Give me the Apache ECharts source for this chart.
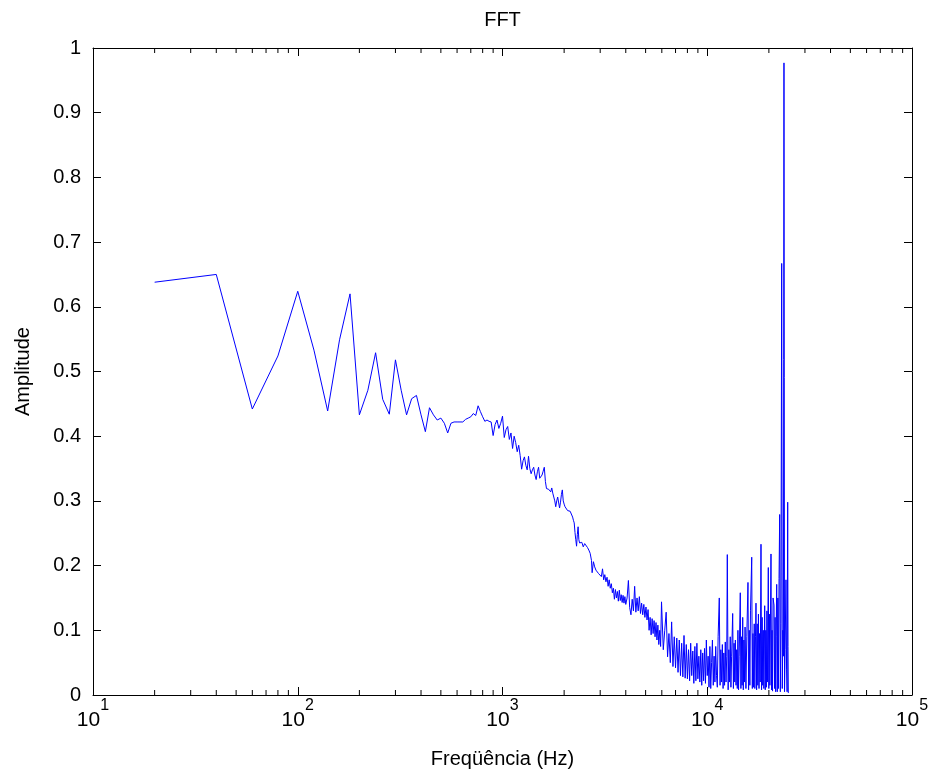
<!DOCTYPE html>
<html>
<head>
<meta charset="utf-8">
<script src="https://cdn.jsdelivr.net/npm/echarts@6/dist/echarts.min.js"></script>
<style>html,body{margin:0;padding:0;background:#fff}#c{width:936px;height:778px}</style>
</head>
<body>
<div id="c"></div>
<script>
// ---- data ----
const titleText = 'FFT';
const xTitle = 'Freqüência (Hz)';
const yTitle = 'Amplitude';

const freqLow = [20,40,60,80,100,120,140,160,180,200,220,240,260,280,300,320,340,360,380,400,
  420,440,460,480,500,520,540,560,580,600,620,640,660,680,700,720,740,760,780,800,
  820,840,860,880,900,920,940,960,980,1000,1020];
const ampLow = [0.638,0.650,0.442,0.524,0.624,0.533,0.439,0.549,0.620,0.433,0.471,0.529,0.457,0.434,0.518,0.471,0.433,0.458,0.463,0.433,
  0.407,0.444,0.433,0.425,0.428,0.420,0.405,0.420,0.422,0.422,0.422,0.422,0.426,0.428,0.430,0.435,0.432,0.447,0.438,0.430,
  0.423,0.425,0.423,0.422,0.401,0.418,0.425,0.412,0.420,0.431,0.398];

const freqMid = [1040,1060,1080,1100,1120,1140,1160,1180,1200,1220,1240,1260,1280,1300,1320,1340,1360,1380,1400,1420,
  1440,1460,1480,1500,1520,1540,1560,1580,1600,1620,1640,1660,1680,1700,1720,1740,1760,1780,1800,1820,
  1840,1860,1880,1900,1920,1940,1960,1980,2000,2020,2040,2060,2080,2100,2120,2140,2160,2180,2200,2220,
  2240,2260,2280,2300,2320,2340,2360,2380,2400,2440,2480,2520,2560,2600,2640,2680,2720,2740,2780,2820,
  2860,2900,2940,3000];
const ampMid = [0.410,0.415,0.395,0.405,0.381,0.400,0.390,0.376,0.386,0.370,0.349,0.362,0.368,0.355,0.348,0.369,0.350,0.342,0.348,0.352,
  0.340,0.333,0.345,0.352,0.335,0.338,0.340,0.346,0.352,0.330,0.319,0.322,0.318,0.316,0.314,0.320,0.312,0.312,0.300,0.291,
  0.300,0.306,0.306,0.289,0.298,0.310,0.317,0.300,0.295,0.291,0.294,0.288,0.285,0.287,0.287,0.284,0.282,0.281,0.275,0.270,
  0.266,0.251,0.240,0.230,0.248,0.260,0.240,0.235,0.232,0.236,0.229,0.234,0.232,0.228,0.224,0.219,0.208,0.189,0.206,0.198,
  0.193,0.196,0.188,0.191];

const freqHigh = [3040,3080,3120,3160,3200,3240,3280,3320,3360,3400,3440,3480,3520,3560,3600,3640,3680,3720,3760,3800,
  3840,3880,3920,3960,4000,4060,4120,4180,4240,4300,4360,4420,4480,4540,4600,4660,4720,4780,4840,4900,
  4960,5020,5080,5140,5200,5260,5320,5380,5440,5500,5560,5620,5680,5740,5800,5860,5920,5980,6100,6200,
  6300,6400,6500,6600,6700,6800,6900,7000,7100,7200,7300,7400,7500,7600,7700,7800,7900,8000,8100,8200,
  8300,8400,8500,8600,8700,8800,8900,9000,9100,9200,9300,9400,9500,9600,9700,9800,9900,10000];
const ampHigh = [0.183,0.195,0.178,0.186,0.175,0.182,0.168,0.178,0.165,0.172,0.158,0.165,0.148,0.163,0.150,0.160,0.145,0.162,0.146,0.155,
  0.143,0.154,0.142,0.152,0.140,0.150,0.177,0.135,0.124,0.148,0.130,0.168,0.128,0.150,0.130,0.152,0.126,0.142,0.124,0.140,
  0.120,0.136,0.116,0.132,0.100,0.120,0.093,0.118,0.095,0.115,0.090,0.112,0.085,0.108,0.078,0.100,0.075,0.144,0.070,0.100,
  0.128,0.059,0.095,0.050,0.113,0.044,0.090,0.042,0.088,0.035,0.085,0.030,0.080,0.028,0.092,0.026,0.078,0.025,0.070,0.022,
  0.080,0.030,0.068,0.018,0.075,0.022,0.080,0.025,0.060,0.020,0.070,0.015,0.065,0.022,0.072,0.018,0.085,0.030];

const freqTop = [10100,10200,10300,10400,10500,10600,10700,10800,10900,11000,11100,11200,11300,11450,11550,11650,11750,11850,11950,12050,
  12150,12250,12350,12450,12530,12650,12750,12850,12950,13050,13150,13310,13420,13520,13620,13720,13820,13920,14020,14120,
  14220,14320,14500,14600,14700,14800,14900,15000,15100,15200,15300,15450,15600,15810,15920,16040,16150,16260,16490,16600,
  16720,16840,16960,17080,17200,17300,17420,17540,17660,17780,17900,18020,18140,18300,18420,18540,18660,18780,18900,19080,
  19200,19320,19440,19560,19680,19870,19990,20110,20230,20480,20600,20720,20840,20960,21190,21320,21450,21580,21700,21840,
  21980,22120,22260,22420,22580,22750,22900,23100,23250,23400,23550,23700,23850,24000,24240,24400,24550,24710,24800,24880];
const ampTop = [0.060,0.012,0.075,0.010,0.050,0.085,0.015,0.060,0.020,0.075,0.030,0.012,0.090,0.150,0.015,0.070,0.020,0.078,0.010,0.065,
  0.015,0.082,0.020,0.060,0.217,0.008,0.070,0.020,0.090,0.012,0.060,0.126,0.010,0.080,0.020,0.085,0.015,0.070,0.010,0.100,
  0.008,0.060,0.158,0.010,0.090,0.015,0.120,0.008,0.085,0.020,0.105,0.010,0.090,0.174,0.008,0.100,0.015,0.130,0.213,0.010,
  0.095,0.012,0.110,0.010,0.090,0.142,0.008,0.110,0.015,0.125,0.010,0.095,0.020,0.233,0.008,0.120,0.015,0.100,0.010,0.138,
  0.008,0.100,0.012,0.130,0.020,0.197,0.010,0.125,0.015,0.218,0.008,0.100,0.006,0.150,0.139,0.010,0.120,0.005,0.090,0.171,
  0.005,0.150,0.010,0.180,0.279,0.005,0.110,0.667,0.010,0.100,0.060,0.977,0.005,0.070,0.178,0.040,0.005,0.298,0.075,0.003];

const yTicks = [0,0.1,0.2,0.3,0.4,0.5,0.6,0.7,0.8,0.9,1];
const xDecades = [10,100,1000,10000,100000];
const xMinorTicks = [20,30,40,50,60,70,80,90,200,300,400,500,600,700,800,900,
  2000,3000,4000,5000,6000,7000,8000,9000,20000,30000,40000,50000,60000,70000,80000,90000];

// ---- build ----
const freq = freqLow.concat(freqMid, freqHigh, freqTop);
const amp = ampLow.concat(ampMid, ampHigh, ampTop);
const lineData = freq.map((f, i) => [f, amp[i]]);

const FONT = "'Liberation Sans', Arial, Helvetica, sans-serif";

const chart = echarts.init(document.getElementById('c'), null, {renderer: 'canvas'});
const axisLineStyle = {color: '#000', width: 1};
const baseX = {
  type: 'log', logBase: 10, min: xDecades[0], max: xDecades[xDecades.length - 1], splitNumber: 4,
  axisLine: {show: true, onZero: false, lineStyle: axisLineStyle},
  axisTick: {show: true, inside: true, length: 8, lineStyle: axisLineStyle},
  splitLine: {show: false}, minorTick: {show: false}
};
const baseY = {
  type: 'value', min: yTicks[0], max: yTicks[yTicks.length - 1], interval: 0.1,
  axisLine: {show: true, onZero: false, lineStyle: axisLineStyle},
  axisTick: {show: true, inside: true, length: 8, lineStyle: axisLineStyle},
  splitLine: {show: false}
};

chart.setOption({
  animation: false,
  backgroundColor: '#fff',
  grid: {left: 93, right: 24, top: 48, bottom: 83, containLabel: false},
  xAxis: [
    Object.assign({}, baseX, {
      position: 'bottom',
      name: xTitle, nameLocation: 'middle', nameGap: 54,
      nameTextStyle: {fontFamily: FONT, fontSize: 20, color: '#000'},
      axisLabel: {
        show: true, margin: 3, color: '#000',
        formatter: v => '{b|10}{s|' + Math.round(Math.log10(v)) + '}',
        rich: {
          b: {fontFamily: FONT, fontSize: 21, color: '#000', padding: [12, 0, 0, 0], verticalAlign: 'bottom'},
          s: {fontFamily: FONT, fontSize: 16, color: '#000', verticalAlign: 'top'}
        }
      }
    }),
    Object.assign({}, baseX, {
      position: 'top',
      name: titleText, nameLocation: 'middle', nameGap: 18,
      nameTextStyle: {fontFamily: FONT, fontSize: 20, color: '#000'},
      axisLabel: {show: false}
    })
  ],
  yAxis: [
    Object.assign({}, baseY, {
      position: 'left',
      name: yTitle, nameLocation: 'middle', nameGap: 60,
      nameTextStyle: {fontFamily: FONT, fontSize: 20, color: '#000'},
      axisLabel: {show: true, margin: 12, color: '#000', fontFamily: FONT, fontSize: 20,
        formatter: v => String(Number(v.toFixed(1)))}
    }),
    Object.assign({}, baseY, {position: 'right', axisLabel: {show: false}})
  ],
  series: [
    {
      type: 'line', xAxisIndex: 0, yAxisIndex: 0,
      data: lineData, showSymbol: false, symbol: 'none', sampling: null,
      lineStyle: {color: '#0000ff', width: 1}, itemStyle: {color: '#0000ff'},
      z: 3
    },
    {
      type: 'custom', xAxisIndex: 0, yAxisIndex: 0, silent: true, clip: false,
      data: xMinorTicks.map(v => [v, 0]),
      encode: {x: 0, y: 1},
      renderItem: function (params, api) {
        const v = api.value(0);
        const pb = api.coord([v, 0]);
        const pt = api.coord([v, 1]);
        const st = {stroke: '#000', lineWidth: 1};
        return {type: 'group', children: [
          {type: 'line', shape: {x1: pb[0], y1: pb[1], x2: pb[0], y2: pb[1] - 5}, style: st},
          {type: 'line', shape: {x1: pt[0], y1: pt[1], x2: pt[0], y2: pt[1] + 5}, style: st}
        ]};
      },
      z: 4
    }
  ]
});
</script>
</body>
</html>
